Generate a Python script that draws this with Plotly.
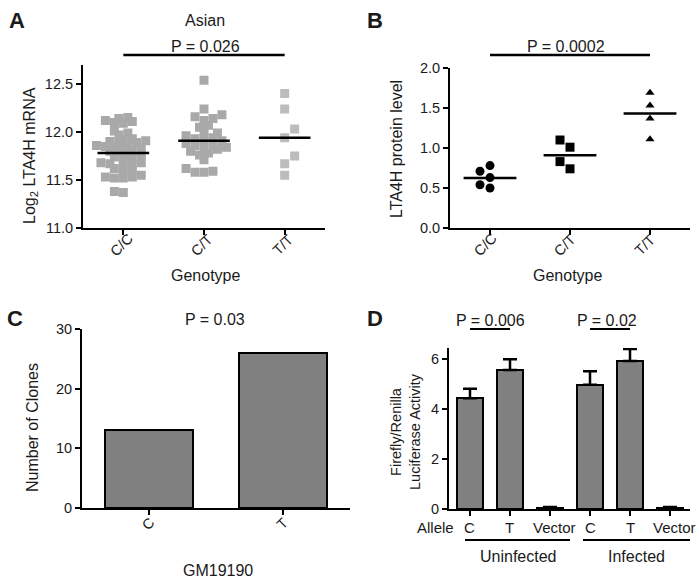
import plotly.graph_objects as go

# ---------------- data ----------------
genotypes = ["C/C", "C/T", "T/T"]

a_cc = [12.15, 12.12, 12.14, 12.10, 12.11, 12.09, 12.01, 11.99, 11.97, 11.93, 11.92,
        11.91, 11.90, 11.89, 11.88, 11.87, 11.86, 11.85, 11.84, 11.83, 11.83, 11.81,
        11.80, 11.79, 11.77, 11.76, 11.74, 11.73, 11.72, 11.68, 11.67, 11.66, 11.66,
        11.68, 11.62, 11.60, 11.59, 11.55, 11.53, 11.52, 11.52, 11.53, 11.38, 11.37]
a_ct = [12.54, 12.24, 12.18, 12.16, 12.14, 12.12, 12.07, 12.05, 11.99, 11.99, 11.96,
        11.94, 11.93, 11.91, 11.90, 11.88, 11.87, 11.86, 11.84, 11.83, 11.82, 11.80,
        11.78, 11.76, 11.71, 11.62, 11.59, 11.58, 11.58]
a_tt = [12.40, 12.24, 12.03, 11.94, 11.75, 11.67, 11.55]
a_means = [11.78, 11.91, 11.94]

b_cc = [0.78, 0.71, 0.63, 0.54, 0.50]
b_ct = [1.10, 1.01, 0.83, 0.74]
b_tt = [1.69, 1.53, 1.37, 1.11]
b_means = [0.625, 0.91, 1.43]

c_alleles = ["C", "T"]
c_clones = [13, 26]

d_labels = ["C", "T", "Vector", "C", "T", "Vector"]
d_values = [4.43, 5.56, 0.05, 4.97, 5.92, 0.05]
d_errors = [0.38, 0.43, 0.03, 0.54, 0.48, 0.03]

# ---------------- helpers ----------------
W, H = 699, 583
FONT = "Liberation Sans, Arial, sans-serif"
TXT = "#1a1a1a"
TICK = 14.5
TITLE = 16


def px(x):
    return x / W


def py(y):
    return 1 - y / H


def swarm(vals, xppu, yppu, size, step):
    order = sorted(range(len(vals)), key=lambda i: vals[i])
    placed = []
    off = [0.0] * len(vals)
    for n, i in enumerate(order):
        y = vals[i] * yppu
        k = 0
        found = None
        while found is None:
            if k == 0:
                cands = [0]
            else:
                cands = [k * step, -k * step] if n % 2 == 0 else [-k * step, k * step]
            for c in cands:
                if all(((c - a) ** 2 + (y - b) ** 2) ** 0.5 >= size for a, b in placed):
                    found = c
                    break
            k += 1
        placed.append((found, y))
        off[i] = found / xppu
    return off


fig = go.Figure()

# ---------------- panel A ----------------
a_groups = [a_cc, a_ct, a_tt]
a_colors = ["#a9a9a9", "#a9a9a9", "#bcbcbc"]
a_swarm = [(5.5, 4.5), (6, 4.5), (9, 10)]
for gi, vals in enumerate(a_groups):
    off = swarm(vals, 81, 96, *a_swarm[gi])
    fig.add_trace(go.Scatter(
        x=[gi + o for o in off], y=vals, mode="markers",
        marker=dict(symbol="square", size=9, color=a_colors[gi], line=dict(width=0)),
        xaxis="x", yaxis="y", showlegend=False, hoverinfo="skip"))
mx, my = [], []
for gi, m in enumerate(a_means):
    mx += [gi - 0.32, gi + 0.32, None]
    my += [m, m, None]
fig.add_trace(go.Scatter(x=mx, y=my, mode="lines", line=dict(color="black", width=2.5),
                         xaxis="x", yaxis="y", showlegend=False, hoverinfo="skip"))

# ---------------- panel B ----------------
b_groups = [b_cc, b_ct, b_tt]
b_symbols = ["circle", "square", "triangle-up"]
b_sizes = [9, 9, 8]
for gi, vals in enumerate(b_groups):
    off = swarm(vals, 80, 80, 9, 5)
    fig.add_trace(go.Scatter(
        x=[gi + o for o in off], y=vals, mode="markers",
        marker=dict(symbol=b_symbols[gi], size=b_sizes[gi], color="black", line=dict(width=0)),
        xaxis="x2", yaxis="y2", showlegend=False, hoverinfo="skip"))
mx, my = [], []
for gi, m in enumerate(b_means):
    mx += [gi - 0.33, gi + 0.33, None]
    my += [m, m, None]
fig.add_trace(go.Scatter(x=mx, y=my, mode="lines", line=dict(color="black", width=2.5),
                         xaxis="x2", yaxis="y2", showlegend=False, hoverinfo="skip"))

# ---------------- panel C ----------------
fig.add_trace(go.Bar(x=[0, 1], y=c_clones, width=0.66,
                     marker=dict(color="#808080", line=dict(color="black", width=2)),
                     xaxis="x3", yaxis="y3", showlegend=False, hoverinfo="skip"))

# ---------------- panel D ----------------
fig.add_trace(go.Bar(x=list(range(len(d_values))), y=d_values, width=0.66,
                     marker=dict(color="#808080", line=dict(color="black", width=2)),
                     error_y=dict(type="data", symmetric=False, array=d_errors,
                                  arrayminus=[0] * len(d_errors), color="black",
                                  thickness=2.5, width=7),
                     xaxis="x4", yaxis="y4", showlegend=False, hoverinfo="skip"))

axis_common = dict(showline=True, linecolor="black", linewidth=2, ticks="outside",
                   ticklen=5, tickwidth=2, tickcolor="black", showgrid=False,
                   zeroline=False, automargin=False,
                   tickfont=dict(family=FONT, size=TICK, color=TXT))

fig.update_layout(
    template="none",
    width=W, height=H, margin=dict(l=0, r=0, t=0, b=0, pad=0), autosize=False,
    paper_bgcolor="white", plot_bgcolor="white", showlegend=False,
    font=dict(family=FONT, size=15, color=TXT),
    bargap=0,
    xaxis=dict(axis_common, domain=[px(83), px(325)], range=[-0.5, 2.5], anchor="y",
               tickmode="array", tickvals=[0, 1, 2], showticklabels=False),
    yaxis=dict(axis_common, domain=[py(228), py(64.8)], range=[11.0, 12.7], anchor="x",
               tickvals=[11.0, 11.5, 12.0, 12.5], tickformat=".1f"),
    xaxis2=dict(axis_common, domain=[px(450), px(690)], range=[-0.5, 2.5], anchor="y2",
                tickmode="array", tickvals=[0, 1, 2], showticklabels=False),
    yaxis2=dict(axis_common, domain=[py(228), py(68)], range=[0, 2.0], anchor="x2",
                tickvals=[0, 0.5, 1.0, 1.5, 2.0], tickformat=".1f"),
    xaxis3=dict(axis_common, domain=[px(82), px(350)], range=[-0.5, 1.5], anchor="y3",
                tickmode="array", tickvals=[0, 1], showticklabels=False),
    yaxis3=dict(axis_common, domain=[py(508), py(329)], range=[0, 30], anchor="x3",
                tickvals=[0, 10, 20, 30]),
    xaxis4=dict(axis_common, domain=[px(449), px(690)], range=[-0.525, 5.5], anchor="y4",
                tickmode="array", tickvals=list(range(len(d_labels))), showticklabels=False),
    yaxis4=dict(axis_common, domain=[py(509), py(348)], range=[0, 6.44], anchor="x4",
                tickvals=[0, 2, 4, 6]),
)

ann = []


def text(x, y, s, size=TITLE, angle=0, bold=False, xref="paper", xshift=0):
    ann.append(dict(x=px(x) if xref == "paper" else x, y=py(y), xref=xref, yref="paper",
                    text=("<b>%s</b>" % s) if bold else s, xshift=xshift,
                    showarrow=False, textangle=angle, xanchor="center", yanchor="middle",
                    font=dict(family=FONT, size=size, color=TXT)))


# panel letters
text(17, 21, "A", 22, bold=True)
text(375, 21, "B", 22, bold=True)
text(15, 318, "C", 22, bold=True)
text(375, 318, "D", 22, bold=True)

# category tick labels
for i, g in enumerate(genotypes):
    text(i, 245, g, TICK, angle=-45, xref="x", xshift=-2)
    text(i, 245, g, TICK, angle=-45, xref="x2", xshift=-5)
for i, g in enumerate(c_alleles):
    text(i, 524, g, TICK, angle=-45, xref="x3", xshift=-1)
for i, g in enumerate(d_labels):
    text(i, 527, g, 15, xref="x4", xshift=(4 if g == "Vector" else 0))

# panel A texts
text(205, 20, "Asian")
text(205, 46, "P = 0.026")
text(30, 156, "Log<sub>2</sub> LTA4H mRNA", TITLE, angle=-90)
text(205, 275, "Genotype")

# panel B texts
text(566, 46, "P = 0.0002")
text(396, 149, "LTA4H protein level", TITLE, angle=-90)
text(567, 275, "Genotype")

# panel C texts
text(215, 319, "P = 0.03")
text(32, 428, "Number of Clones", TITLE, angle=-90)
text(218, 570, "GM19190")

# panel D texts
text(490, 320, "P = 0.006")
text(607, 320, "P = 0.02")
text(405, 432, "Firefly/Renilla<br>Luciferase Activity", 14.5, angle=-90)
text(435, 527, "Allele", 15)
text(518, 556, "Uninfected")
text(636, 556, "Infected")

fig.update_layout(annotations=ann)

shapes = []
# P-value bars (span between compared groups)
shapes.append(dict(type="line", xref="x", yref="paper", x0=0, x1=2, y0=py(55), y1=py(55),
                   line=dict(color="black", width=2.5)))
shapes.append(dict(type="line", xref="x2", yref="paper", x0=0, x1=2, y0=py(55), y1=py(55),
                   line=dict(color="black", width=2.5)))
shapes.append(dict(type="line", xref="x4", yref="paper", x0=0, x1=1, y0=py(329), y1=py(329),
                   line=dict(color="black", width=2)))
shapes.append(dict(type="line", xref="x4", yref="paper", x0=3, x1=4, y0=py(329), y1=py(329),
                   line=dict(color="black", width=2)))
# group underlines
shapes.append(dict(type="line", xref="paper", yref="paper", x0=px(465), x1=px(570),
                   y0=py(540), y1=py(540), line=dict(color="black", width=2)))
shapes.append(dict(type="line", xref="paper", yref="paper", x0=px(583), x1=px(690),
                   y0=py(540), y1=py(540), line=dict(color="black", width=2)))
fig.update_layout(shapes=shapes)

fig.write_html("out.html", config={"displayModeBar": False},
               post_script="document.body.style.margin='0px';")
